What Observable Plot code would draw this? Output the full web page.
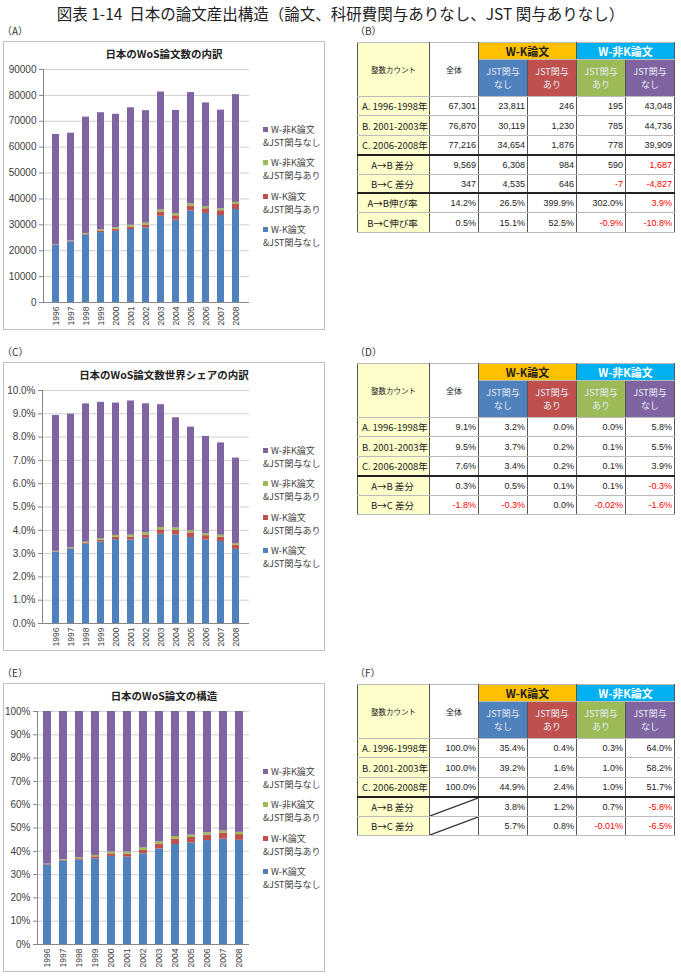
<!DOCTYPE html>
<html><head><meta charset="utf-8">
<script src="https://cdn.jsdelivr.net/npm/d3@7"></script>
<script src="https://cdn.jsdelivr.net/npm/@observablehq/plot@0.6"></script>
<style>
body{margin:0;background:#fff;font-family:"Liberation Sans","Noto Sans CJK JP",sans-serif;color:#222;}
#root{position:relative;width:681px;height:977px;overflow:hidden;}
.abs{position:absolute;}
.panel{position:absolute;left:3px;width:322px;height:289px;border:1px solid #bfbfbf;box-sizing:border-box;}
.ptitle{position:absolute;left:3px;width:322px;text-align:center;font-size:10.5px;font-weight:bold;color:#222;font-family:"Noto Sans CJK JP",sans-serif;}
.lbl{position:absolute;font-size:10px;color:#333;font-family:"Noto Sans CJK JP",sans-serif;}
.leg{position:absolute;font-size:9px;line-height:13px;height:13px;color:#404040;font-family:"Noto Sans CJK JP",sans-serif;white-space:nowrap;}
.leg i{display:inline-block;width:5px;height:5px;margin-right:3px;vertical-align:1px;}
table.t{position:absolute;border-collapse:collapse;table-layout:fixed;font-size:9px;border:1px solid #555;}
table.t td{padding:0 2px;border-left:1px solid #555;border-right:1px solid #555;border-top:1px solid #bbb;border-bottom:1px solid #bbb;white-space:nowrap;overflow:hidden;}
table.t td.num{text-align:right;}
table.t td.rl{background:#FFFFCC;font-family:"Noto Sans CJK JP",sans-serif;font-size:9.5px;}
table.t tr.thick td{border-top:2px solid #222;}
table.t td.grpK{background:#FFC000;color:#222;font-weight:bold;font-size:11px;text-align:center;font-family:"Noto Sans CJK JP",sans-serif;}
table.t td.grpN{background:#00B0F0;color:#fff;font-weight:bold;font-size:11px;text-align:center;font-family:"Noto Sans CJK JP",sans-serif;}
table.t td.sub{color:#e6ecf5;text-align:center;font-size:9px;font-family:"Noto Sans CJK JP",sans-serif;}
table.t td.sub div{height:13px;line-height:13px;}
table.t td.hd{text-align:center;font-size:8px;font-family:"Noto Sans CJK JP",sans-serif;vertical-align:middle;}
table.t td.red{color:#FF0000;}
table.t td.diag{background-image:url("data:image/svg+xml;utf8,<svg xmlns='http://www.w3.org/2000/svg' width='100' height='100' preserveAspectRatio='none' viewBox='0 0 100 100'><line x1='0' y1='100' x2='100' y2='0' stroke='%23333' stroke-width='1.2' vector-effect='non-scaling-stroke'/></svg>");background-size:100% 100%;background-repeat:no-repeat;}
</style>
</head><body>
<div id="root"></div>
<script>
// ---------- data ----------
const years = ["1996","1997","1998","1999","2000","2001","2002","2003","2004","2005","2006","2007","2008"];
const seriesNames = ["W-K論文&JST関与なし","W-K論文&JST関与あり","W-非K論文&JST関与あり","W-非K論文&JST関与なし"];
const seriesColors = ["#4F81BD","#C0504D","#9BBB59","#8064A2"];
const legendLines = [["W-非K論文","&JST関与なし"],["W-非K論文","&JST関与あり"],["W-K論文","&JST関与あり"],["W-K論文","&JST関与なし"]];
const legendColorIdx = [3,2,1,0];

const countWKNo  = [22100,23400,26000,27000,27500,28200,28800,33300,31800,35400,34400,33600,35900];
const countWKYes = [150,220,370,600,800,950,1100,1640,1700,1900,1800,1850,1980];
const countNKYes = [130,180,275,450,600,720,780,855,850,820,790,760,785];
const countNKNo  = [42520,41600,44955,45250,43800,45330,43420,45505,39850,42980,40110,38090,41635];

const shareWKNo  = [3.06,3.20,3.40,3.50,3.60,3.58,3.66,3.83,3.80,3.69,3.58,3.52,3.18];
const shareWKYes = [0.02,0.03,0.05,0.08,0.10,0.12,0.14,0.19,0.20,0.20,0.19,0.19,0.18];
const shareNKYes = [0.018,0.025,0.036,0.06,0.08,0.09,0.10,0.10,0.10,0.09,0.08,0.08,0.07];
const shareNKNo  = [5.83,5.73,5.94,5.85,5.68,5.76,5.53,5.27,4.73,4.45,4.18,3.96,3.67];

const structWKNo  = [34.1,35.8,36.3,36.8,37.8,37.5,38.9,41.0,42.9,43.6,44.6,45.2,44.7];
const structWKYes = [0.23,0.34,0.52,0.82,1.10,1.26,1.48,2.02,2.29,2.34,2.33,2.49,2.47];
const structNKYes = [0.20,0.28,0.38,0.61,0.83,0.96,1.05,1.05,1.15,1.01,1.02,1.02,0.98];
const structNKNo  = [65.47,63.58,62.80,61.77,60.27,60.28,58.57,55.93,53.66,53.05,52.05,51.29,51.85];

const countTicks = [0,10000,20000,30000,40000,50000,60000,70000,80000,90000];
const shareTicks = [0,1,2,3,4,5,6,7,8,9,10];
const structTicks = [0,10,20,30,40,50,60,70,80,90,100];

const tableRowLabels = ["A. 1996-1998年","B. 2001-2003年","C. 2006-2008年","A→B 差分","B→C 差分","A→B伸び率","B→C伸び率"];
const tableHeader = ["整数カウント","全体"];
const tableGroups = ["W-K論文","W-非K論文"];
const tableSubs = [["JST関与","なし"],["JST関与","あり"],["JST関与","あり"],["JST関与","なし"]];
const tableBValues = [
 ["67,301","23,811","246","195","43,048"],
 ["76,870","30,119","1,230","785","44,736"],
 ["77,216","34,654","1,876","778","39,909"],
 ["9,569","6,308","984","590","1,687"],
 ["347","4,535","646","-7","-4,827"],
 ["14.2%","26.5%","399.9%","302.0%","3.9%"],
 ["0.5%","15.1%","52.5%","-0.9%","-10.8%"]];
const tableBHighlight = [[3,4],[5,4]];
const tableDValues = [
 ["9.1%","3.2%","0.0%","0.0%","5.8%"],
 ["9.5%","3.7%","0.2%","0.1%","5.5%"],
 ["7.6%","3.4%","0.2%","0.1%","3.9%"],
 ["0.3%","0.5%","0.1%","0.1%","-0.3%"],
 ["-1.8%","-0.3%","0.0%","-0.02%","-1.6%"]];
const tableFValues = [
 ["100.0%","35.4%","0.4%","0.3%","64.0%"],
 ["100.0%","39.2%","1.6%","1.0%","58.2%"],
 ["100.0%","44.9%","2.4%","1.0%","51.7%"],
 ["","3.8%","1.2%","0.7%","-5.8%"],
 ["","5.7%","0.8%","-0.01%","-6.5%"]];

const figTitle = "図表 1-14  日本の論文産出構造（論文、科研費関与ありなし、JST 関与ありなし）";
const chartTitles = ["日本のWoS論文数の内訳","日本のWoS論文数世界シェアの内訳","日本のWoS論文の構造"];
const panelLabels = ["（A）","（B）","（C）","（D）","（E）","（F）"];

// ---------- layout ----------
const root = document.getElementById("root");
function el(tag, cls, style, html){const e=document.createElement(tag); if(cls)e.className=cls; if(style)Object.assign(e.style,style); if(html!=null)e.innerHTML=html; root.appendChild(e); return e;}

el("div","abs",{left:"0",top:"2px",width:"681px",textAlign:"center",fontSize:"15.5px",color:"#222",fontFamily:"'Noto Sans CJK JP',sans-serif",whiteSpace:"pre"},figTitle);

const panelTops = [41,362,683];
panelTops.forEach((t,i)=>{
  el("div","lbl",{left:"2px",top:(t-18)+"px"},panelLabels[i*2]);
  el("div","lbl",{left:"355px",top:(t-18)+"px"},panelLabels[i*2+1]);
});

function chart(idx, series, ticks, fmt, axisLeft){
  const top = panelTops[idx];
  el("div","panel",{top:top+"px"});
  el("div","ptitle",{top:(top+5)+"px"},chartTitles[idx]);
  const rows = [];
  years.forEach((y,j)=>series.forEach((arr,k)=>rows.push({year:y, series:seriesNames[k], value:arr[j]})));
  const p = Plot.plot({
    width: 262, height: 269, marginLeft: axisLeft, marginRight: 13, marginTop: 8, marginBottom: 28,
    style: {fontSize:"10px", fontFamily:"'Liberation Sans','Noto Sans CJK JP',sans-serif", color:"#404040", background:"transparent", overflow:"visible"},
    x: {type:"band", domain: years, paddingInner: 0.52, paddingOuter: 0.26, label: null},
    y: {domain: [ticks[0], ticks[ticks.length-1]], label: null},
    color: {domain: seriesNames, range: seriesColors},
    marks: [
      Plot.gridY(ticks.slice(1), {stroke:"#d0d0d0", strokeOpacity:1}),
      Plot.barY(rows, {x:"year", y:"value", fill:"series"}),
      Plot.frame({anchor:"left", stroke:"#868686"}),
      Plot.ruleY([ticks[0]], {stroke:"#868686"}),
      Plot.axisY(ticks, {tickFormat: fmt, tickSize: 4, tickPadding: 3, stroke:"#868686", fontSize: 10}),
      Plot.axisX({tickSize: 0, tickRotate: -90, tickPadding: 4, fontSize: 8.5}),
    ]
  });
  p.style.position = "absolute"; p.style.left = "0px"; p.style.top = (top+20)+"px";
  root.appendChild(p);
  const legCenters = [95,128,162,195];
  legendLines.forEach((ln,i)=>{
    el("div","leg",{left:"263px",top:(top+legCenters[i]-13)+"px"},
      `<i style="background:${seriesColors[legendColorIdx[i]]}"></i>${ln[0]}`);
    el("div","leg",{left:"263px",top:(top+legCenters[i])+"px"}, ln[1]);
  });
}
chart(0,[countWKNo,countWKYes,countNKYes,countNKNo],countTicks,d=>String(d),43);
chart(1,[shareWKNo,shareWKYes,shareNKYes,shareNKNo],shareTicks,d=>d.toFixed(1)+"%",42);
chart(2,[structWKNo,structWKYes,structNKYes,structNKNo],structTicks,d=>d+"%",37);

// ---------- tables ----------
const subColors = ["#4F81BD","#C0504D","#9BBB59","#8064A2"];
function table(top, groupH, values, thickRows, highlight, diagRows){
  const t = el("table","t",{left:"357px",top:top+"px",width:"317px"});
  const cg = document.createElement("colgroup");
  [72,49,49,49,49,49].forEach(w=>{const c=document.createElement("col");c.style.width=w+"px";cg.appendChild(c);});
  t.appendChild(cg);
  let h = `<tr style="height:${groupH}px"><td class="rl hd" rowspan="2" style="font-size:7.5px">${tableHeader[0]}</td><td class="hd" rowspan="2">${tableHeader[1]}</td>`+
    `<td class="grpK" colspan="2">${tableGroups[0]}</td><td class="grpN" colspan="2">${tableGroups[1]}</td></tr>`;
  h += `<tr style="height:37px">` + tableSubs.map((s,i)=>`<td class="sub" style="background:${subColors[i]}"><div>${s[0]}</div><div>${s[1]}</div></td>`).join("") + `</tr>`;
  values.forEach((row,r)=>{
    const lab = tableRowLabels[r];
    const centered = r>=3;
    h += `<tr style="height:19.4px" class="${thickRows.includes(r)?"thick":""}"><td class="rl" style="text-align:${centered?"center":"left"};padding-left:${centered?0:4}px">${lab}</td>`;
    row.forEach((v,c)=>{
      const red = v.startsWith("-") || highlight.some(([a,b])=>a===r&&b===c);
      const diag = c===0 && diagRows.includes(r);
      h += `<td class="num${red?" red":""}${diag?" diag":""}">${v}</td>`;
    });
    h += `</tr>`;
  });
  t.innerHTML += h;
}
table(42,14,tableBValues,[3,5],tableBHighlight,[]);
table(363,15,tableDValues,[3],[],[]);
table(684,16,tableFValues,[3],[],[3,4]);
</script>
</body></html>
